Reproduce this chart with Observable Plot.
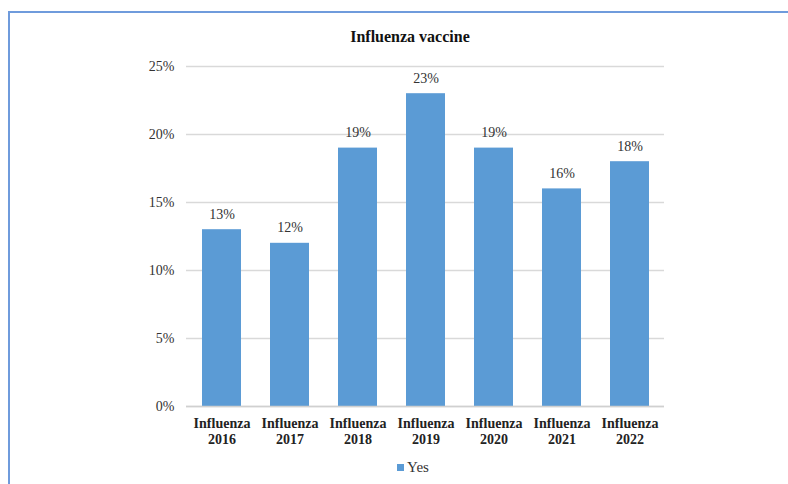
<!DOCTYPE html>
<html>
<head>
<meta charset="utf-8">
<script src="https://cdn.jsdelivr.net/npm/d3@7"></script>
<script src="https://cdn.jsdelivr.net/npm/@observablehq/plot@0.6"></script>
<style>
  html, body { margin: 0; padding: 0; background: #fff; }
  body { width: 788px; height: 484px; position: relative; overflow: hidden; font-family: "Liberation Serif", "Times New Roman", serif; }
  #frame { position: absolute; left: 8px; top: 11px; width: 800px; height: 500px; border-left: 2px solid #6f9bdc; border-top: 2px solid #6f9bdc; box-sizing: border-box; }
  #title { position: absolute; left: 0; width: 820px; top: 28px; text-align: center; font-weight: bold; font-size: 16px; color: #111; }
  #chart { position: absolute; left: 0; top: 50px; }
  #legend { position: absolute; left: 0; width: 826px; top: 459px; text-align: center; font-size: 15px; color: #333; }
  #legend .sw { display: inline-block; width: 7px; height: 7px; background: #5b9bd5; margin-right: 3px; vertical-align: 1px; }
</style>
</head>
<body>
<div id="frame"></div>
<div id="title">Influenza vaccine</div>
<div id="chart"></div>
<div id="legend"><span class="sw"></span>Yes</div>
<script>
const categories = ["Influenza 2016", "Influenza 2017", "Influenza 2018", "Influenza 2019", "Influenza 2020", "Influenza 2021", "Influenza 2022"];
const values = [13, 12, 19, 23, 19, 16, 18];
const yTicks = [0, 5, 10, 15, 20, 25];

const data = categories.map((c, i) => ({cat: c, v: values[i]}));

const chart = Plot.plot({
  width: 788,
  height: 400,
  marginLeft: 186,
  marginRight: 124,
  marginTop: 16,
  marginBottom: 44,
  style: {fontFamily: "'Liberation Serif', 'Times New Roman', serif", background: "transparent"},
  x: {domain: categories, paddingInner: 0.43, paddingOuter: 0.215, label: null},
  y: {domain: [0, 25], label: null},
  marks: [
    Plot.gridY(yTicks, {stroke: "#d9d9d9", strokeOpacity: 1, strokeWidth: 1.5}),
    Plot.barY(data, {x: "cat", y: "v", fill: "#5b9bd5"}),
    Plot.ruleY([0], {stroke: "#d0d0d0", strokeWidth: 1.5}),
    Plot.text(data, {x: "cat", y: "v", text: d => d.v + "%", dy: -11, lineAnchor: "bottom", fontSize: 14, fill: "#333"}),
    Plot.axisY(yTicks, {tickSize: 0, tickPadding: 12, tickFormat: d => d + "%", fontSize: 14, fill: "#333", label: null}),
    Plot.axisX({tickSize: 0, tickPadding: 10, tickFormat: d => d.replace(" ", "\n"), fontSize: 14, fontWeight: "bold", fill: "#222", lineHeight: 1.15, label: null})
  ]
});
document.getElementById("chart").appendChild(chart);
</script>
</body>
</html>
